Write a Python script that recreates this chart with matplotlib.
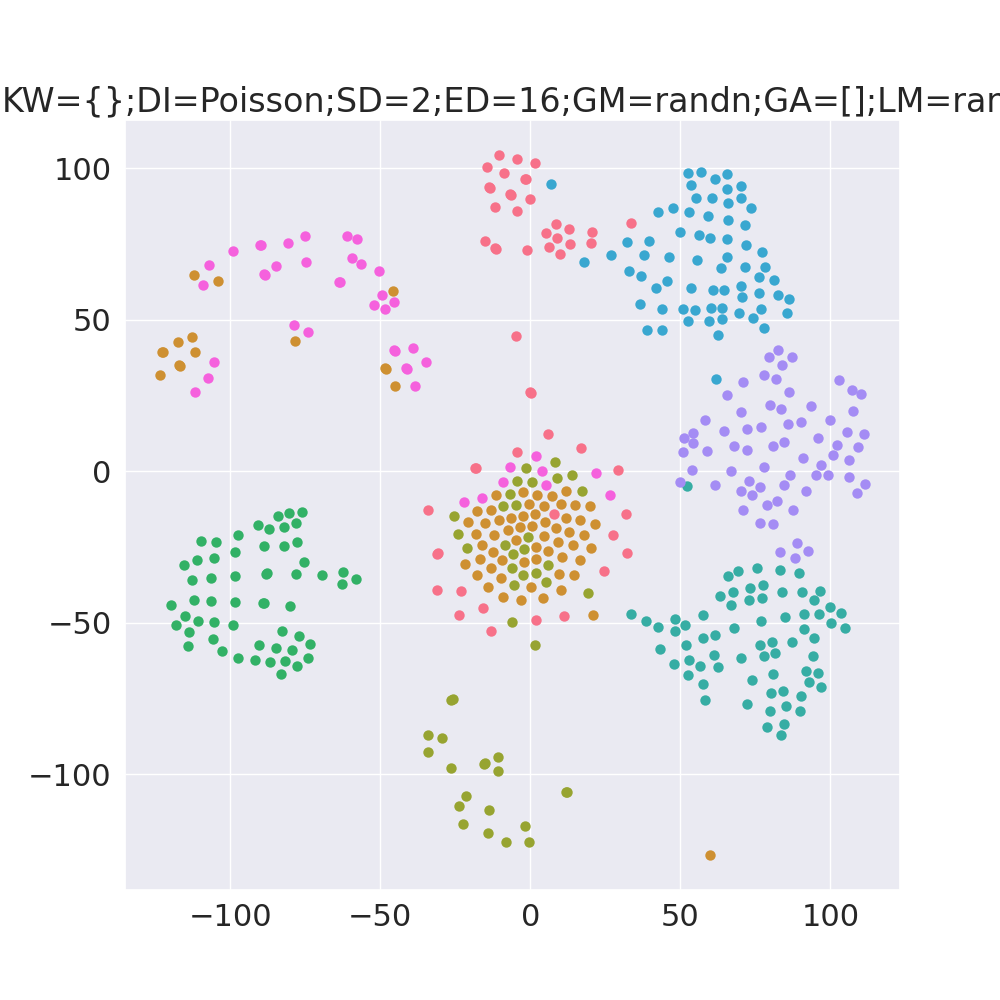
import matplotlib
matplotlib.use("Agg")
import matplotlib.pyplot as plt
import seaborn as sns

title = "KW={};DI=Poisson;SD=2;ED=16;GM=randn;GA=[];LM=ran"

salmon_x = [-10.3, -4.4, -14.4, 1.5, -8.7, -1.8, -1.5, -13.7, -13.4, -6.9, -6.6, -0.2, -11.9, -4.6, 8.6, 5.2, 12.8, 20.7, 33.6, 9.0, -15.1, 20.3, 13.1, 6.2, -11.7, -11.4, -1.1, 9.8,
            -4.8, -0.1, 0.2, 6.0, 16.9, -4.3, -18.3, -18.0, 29.2, -34.1, 7.8, 31.8, 27.5, -31.1, -30.8, 32.1, 24.7, -31.2, -23.0, -15.8, -23.9, 1.9, 11.2, -13.1]
salmon_y = [104.5, 103.0, 100.4, 101.7, 98.5, 96.3, 96.5, 93.8, 93.6, 91.5, 91.3, 89.8, 87.2, 85.8, 81.7, 78.6, 79.9, 79.0, 82.0, 77.0, 75.9, 75.3, 74.9, 73.9, 73.5, 73.3, 72.9, 71.8,
            44.7, 26.2, 25.9, 12.2, 7.8, 6.5, 1.2, 1.0, 0.3, -12.9, -14.2, -14.0, -20.9, -27.2, -27.0, -26.9, -32.8, -39.2, -39.4, -45.2, -47.6, -49.2, -47.8, -52.8]

orange_x = [-11.4, -2.4, 2.2, 7.2, 11.8, -17.9, -13.1, -0.4, 4.6, 10.3, 14.8, 20.0, -20.7, -15.1, -10.5, -6.5, -2.3, 1.7, 4.8, 11.9, 16.5, 21.6,
            -18.1, -12.1, -7.5, -3.5, 0.7, 8.7, 12.9, 17.8, -4.9, 4.5, 9.3, -16.1, -12.3, 1.8, 5.9, 14.3, 20.3, -16.8, -21.9, -9.3, -2.1, 1.9, 10.6, 16.6,
            -13.2, -17.8, -9.8, 9.6, 14.7, -14.0, 0.1, 10.2, -9.1, -3.0, 4.1, 20.9,
            -112.1, -104.2, -78.4, -112.9, -117.3, -122.9, -122.6, -111.8, -117.0, -116.7, -123.4, -45.7, -48.4, -48.1, -45.0, 59.9]
orange_y = [-7.7, -7.0, -7.7, -8.2, -6.4, -13.2, -12.7, -10.8, -11.5, -10.9, -11.0, -11.6, -16.7, -17.0, -16.1, -15.3, -14.7, -14.1, -16.7, -15.5, -16.0, -17.3,
            -20.6, -21.1, -19.4, -18.5, -18.1, -18.8, -20.0, -20.9, -22.6, -21.4, -23.2, -24.4, -26.5, -25.1, -26.3, -24.5, -25.2, -29.0, -30.6, -29.4, -29.9, -29.0, -28.3, -29.4,
            -31.9, -34.3, -35.1, -33.8, -34.3, -38.1, -38.3, -39.1, -41.4, -42.4, -41.8, -47.6,
            64.9, 62.8, 43.0, 44.3, 42.8, 39.5, 39.3, 39.5, 35.0, 34.8, 31.9, 59.5, 33.9, 33.7, 28.1, -126.6]

olive_x = [8.3, -1.5, 9.0, 14.0, -4.3, 0.6, 17.1, -6.9, -9.0, -4.7, -25.4, -24.1, -0.8, -21.1, -8.5, -2.1, -5.8, 5.8, -6.2, 1.8, -2.4, -5.5, 5.2, 19.2, -6.0, 1.7,
           -26.3, -25.9, -34.1, -34.1, -29.4, -26.4, -15.4, -15.1, -10.8, -10.8, -21.4, -23.8, -22.4, -13.8, -14.1, -8.1, -1.8, -0.4, 11.9, 12.2]
olive_y = [3.1, 1.0, -2.2, -1.1, -3.1, -3.5, -6.4, -7.5, -11.6, -11.2, -14.8, -20.8, -21.7, -25.2, -24.3, -25.6, -27.3, -31.1, -32.1, -33.5, -34.3, -37.5, -36.5, -40.1, -49.7, -57.2,
           -75.5, -75.3, -86.9, -92.8, -88.0, -97.9, -96.5, -96.3, -94.3, -98.9, -107.1, -110.4, -116.4, -111.7, -119.3, -122.3, -117.0, -122.3, -105.8, -106.0]

green_x = [-76.0, -80.4, -84.2, -78.2, -90.9, -82.0, -87.1, -97.5, -109.8, -104.8, -77.7, -88.8, -82.1, -98.3, -105.3, -111.0, -115.5, -75.5, -88.1, -87.8, -78.2, -69.4, -62.4, -58.1, -62.9,
           -98.4, -106.4, -112.8, -112.2, -106.3, -98.5, -89.2, -88.9, -80.1, -119.7, -115.2, -110.7, -105.6, -118.1, -99.1, -113.9, -105.8, -114.0, -102.9, -82.7, -77.1, -73.3, -90.4, -84.9, -79.3,
           -97.5, -91.8, -86.7, -81.9, -74.1, -77.9, -83.0]
green_y = [-13.4, -13.8, -14.9, -17.2, -17.7, -18.4, -19.0, -20.9, -23.0, -23.4, -23.3, -24.8, -24.8, -26.6, -28.6, -29.3, -31.1, -29.8, -33.9, -33.7, -33.9, -34.3, -33.3, -35.5, -37.3,
           -34.6, -35.3, -36.0, -42.6, -42.8, -43.2, -43.6, -43.4, -44.5, -44.3, -47.9, -49.4, -49.6, -50.9, -50.7, -53.1, -55.3, -57.8, -59.4, -52.7, -54.4, -57.1, -57.4, -58.3, -59.1,
           -61.6, -62.3, -62.9, -62.7, -61.7, -64.4, -66.8]

teal_x = [33.5, 38.5, 42.6, 48.3, 51.6, 48.1, 57.5, 43.2, 51.8, 57.7, 61.6, 48.0, 52.8, 56.6, 61.2, 62.6, 52.6, 57.6, 58.2, 65.8, 69.2, 75.6, 83.2, 89.6, 63.3, 67.7, 73.3, 77.5, 83.8, 90.5, 96.7,
          72.9, 77.1, 94.7, 66.8, 99.9, 103.6, 91.3, 96.1, 84.9, 77.0, 100.2, 104.8, 68.0, 91.3, 94.5, 87.3, 80.5, 76.5, 81.7, 77.8, 70.2, 94.2, 91.9, 96.0, 92.8, 97.0, 80.9, 73.8, 80.1, 84.3, 90.1,
          72.3, 85.2, 90.0, 79.9, 84.6, 79.0, 83.6, 52.1]
teal_y = [-47.1, -49.3, -51.5, -48.7, -50.8, -52.6, -47.5, -58.8, -57.2, -55.2, -54.2, -63.6, -62.2, -64.3, -60.7, -64.7, -67.1, -70.3, -75.5, -34.5, -32.9, -32.1, -32.7, -33.6, -41.2, -39.7, -38.4, -37.5, -39.7, -39.8, -39.4,
          -42.6, -41.8, -42.5, -44.2, -44.9, -46.8, -47.2, -47.2, -48.2, -49.3, -50.2, -51.7, -51.8, -52.2, -55.1, -56.3, -56.4, -57.3, -60.1, -61.0, -61.5, -61.1, -65.8, -66.5, -69.5, -71.1, -66.8, -69.0, -73.3, -72.5, -74.3,
          -76.9, -77.6, -79.1, -79.1, -83.3, -84.4, -87.0, -5.0]

blue_x = [52.6, 56.8, 65.7, 61.5, 53.5, 70.3, 65.7, 55.1, 60.6, 70.3, 65.8, 73.6, 42.6, 47.7, 53.0, 59.3, 65.8, 71.6, 50.0, 56.1, 60.0, 65.6, 32.2, 39.6, 71.9, 77.1, 27.0, 37.9, 46.3, 55.5, 65.5, 63.5, 71.5, 78.1, 32.9, 37.0,
          76.2, 81.2, 45.5, 41.9, 53.5, 60.8, 64.6, 70.3, 70.7, 76.1, 82.6, 86.2, 36.6, 43.9, 50.8, 54.8, 60.1, 64.0, 69.6, 76.9, 74.1, 85.5, 52.6, 59.6, 63.8, 77.9, 38.8, 43.9, 62.5, 6.8, 17.8, 61.9]
blue_y = [98.4, 98.7, 98.2, 96.4, 94.5, 94.2, 93.0, 90.2, 90.2, 90.3, 88.4, 86.7, 85.6, 86.7, 85.5, 84.2, 83.0, 81.4, 78.9, 78.1, 77.0, 76.5, 75.7, 75.9, 74.6, 72.3, 71.2, 71.5, 70.7, 69.6, 70.6, 67.1, 67.5, 67.4, 66.2, 64.5,
          64.0, 63.2, 62.7, 60.5, 60.6, 59.8, 59.8, 61.2, 57.6, 58.9, 58.1, 56.8, 55.3, 53.5, 53.6, 53.2, 53.7, 54.0, 52.3, 53.5, 50.6, 52.1, 49.6, 49.7, 50.1, 47.3, 46.7, 46.6, 45.0, 94.8, 68.9, 30.4]

purple_x = [82.6, 79.5, 87.3, 84.0, 77.8, 82.0, 70.8, 102.9, 107.2, 110.3, 65.5, 86.2, 79.8, 83.5, 93.6, 107.6, 70.1, 58.3, 90.1, 85.8, 99.9, 76.8, 72.1, 64.6, 105.5, 111.2, 54.1, 51.1, 54.2, 50.8, 58.9, 95.9, 84.6, 80.8,
            67.9, 72.2, 102.3, 109.3, 100.9, 91.0, 106.2, 97.0, 77.8, 53.9, 66.9, 86.6, 95.1, 99.3, 106.2, 49.8, 72.8, 61.6, 76.5, 84.7, 111.5, 70.3, 73.9, 91.8, 108.9, 82.2, 78.8, 71.0, 87.5, 76.7, 80.9, 89.0, 83.2, 92.7, 88.1]
purple_y = [40.0, 37.6, 37.7, 35.1, 31.8, 30.5, 29.4, 30.2, 26.7, 25.5, 25.2, 26.1, 21.7, 20.4, 21.5, 19.9, 19.5, 16.9, 16.4, 15.5, 16.8, 14.5, 13.8, 13.4, 13.0, 12.3, 12.6, 11.0, 9.2, 6.3, 6.8, 11.1, 9.6, 8.3,
            8.2, 7.0, 8.6, 8.1, 5.2, 4.4, 3.7, 2.2, 1.5, 0.5, 0.2, -1.4, -1.2, -1.2, -2.0, -3.5, -3.2, -4.5, -5.2, -4.6, -4.2, -6.4, -8.0, -6.5, -7.1, -9.7, -11.2, -12.8, -12.8, -17.0, -17.5, -23.8, -26.6, -26.4, -28.6]

magenta_x = [1.8, -6.9, 3.9, 21.8, -9.0, 5.1, -16.1, -22.2, 26.6, -99.2, -90.2, -89.9, -80.7, -75.0, -74.8, -84.9, -88.7, -88.4, -107.2, -109.0, -78.9, -74.0, -105.3, -107.4, -111.8,
             -61.1, -57.8, -59.5, -56.4, -63.7, -63.4, -50.4, -49.4, -52.2, -45.5, -48.5, -45.3, -45.0, -39.1, -34.9, -41.3, -41.0, -38.4]
magenta_y = [5.0, 1.4, 0.1, -0.5, -3.4, -4.5, -8.9, -10.0, -8.0, 72.8, 74.7, 74.5, 75.4, 77.6, 69.2, 67.6, 65.0, 64.8, 68.1, 61.4, 48.4, 46.1, 36.1, 30.6, 26.3,
             77.5, 76.6, 70.5, 68.4, 62.5, 62.3, 66.0, 58.1, 55.0, 55.7, 53.6, 40.0, 39.8, 40.8, 36.0, 34.0, 33.8, 28.1]

groups = [(salmon_x, salmon_y), (orange_x, orange_y), (olive_x, olive_y), (green_x, green_y),
          (teal_x, teal_y), (blue_x, blue_y), (purple_x, purple_y), (magenta_x, magenta_y)]

sns.set_theme(style="darkgrid", font_scale=2)
palette = sns.color_palette("husl", 8)

fig, ax = plt.subplots(figsize=(10, 10), dpi=100)
for (xs, ys), colour in zip(groups, palette):
    ax.scatter(xs, ys, s=56, color=colour, linewidths=0)

ax.set_xlim(-135.1, 123.2)
ax.set_ylim(-138.2, 115.9)
ax.set_xticks([-100, -50, 0, 50, 100])
ax.set_yticks([-100, -50, 0, 50, 100])
ax.set_title(title, x=0.49)

fig.savefig("out.png")
